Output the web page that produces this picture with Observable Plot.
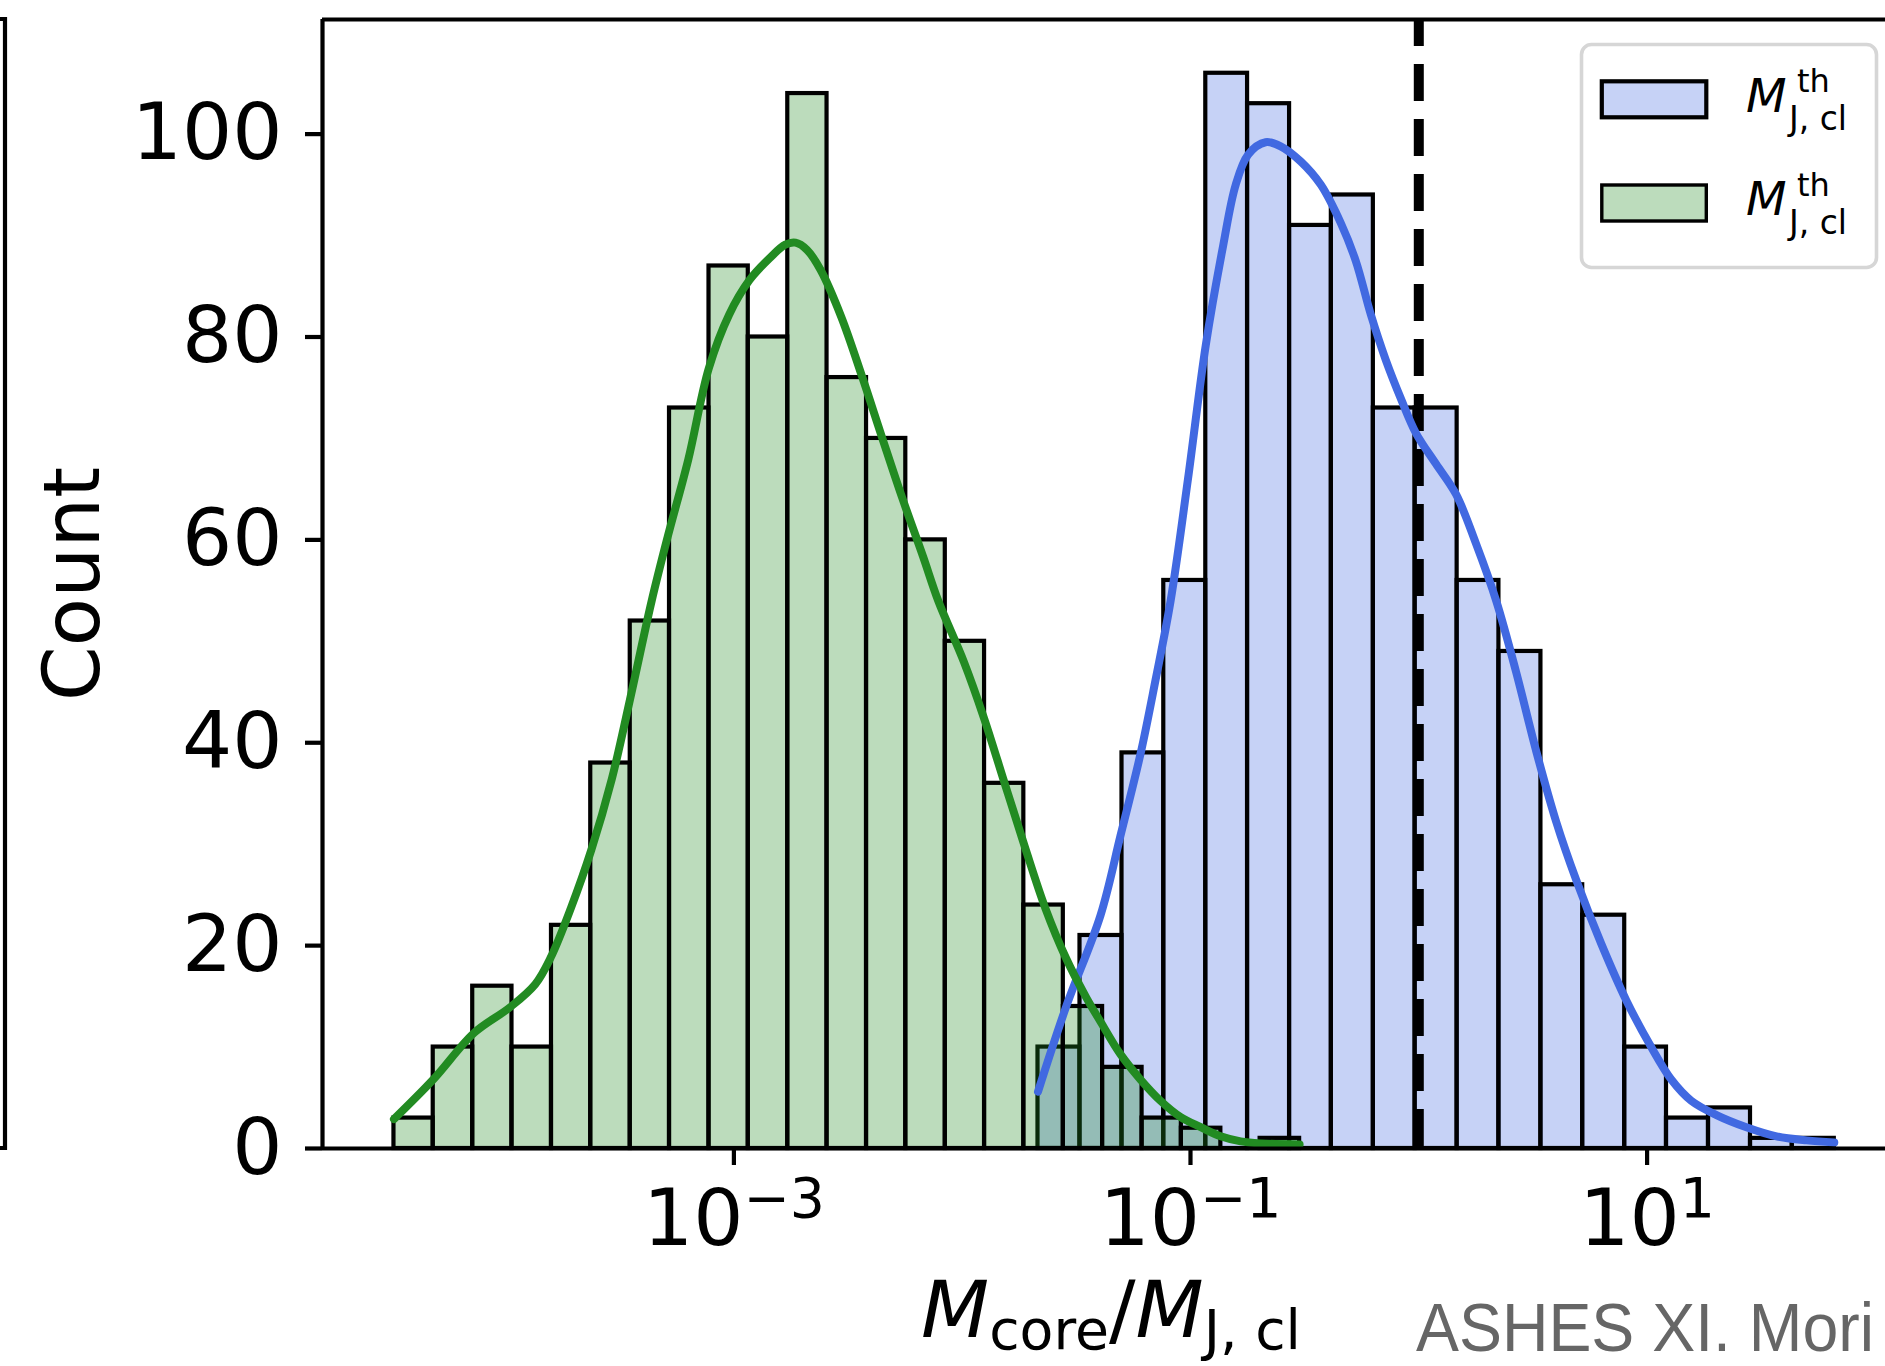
<!DOCTYPE html>
<html>
<head>
<meta charset="utf-8">
<script src="https://cdn.jsdelivr.net/npm/d3@7"></script>
<script src="https://cdn.jsdelivr.net/npm/@observablehq/plot@0.6"></script>
<style>
  html, body { margin: 0; padding: 0; background: #fff; }
  #wrap { position: relative; width: 1885px; height: 1366px; overflow: hidden; background: #fff; }
  #wrap > svg { position: absolute; left: 0; top: 0; max-width: none !important; }
</style>
</head>
<body>
<div id="wrap"></div>
<script>
// ---------- data ----------
// histogram bin edges, as log10 of M_core / M_J,cl
const greenEdgesLog = [-4.489, -4.317, -4.144, -3.972, -3.799, -3.627, -3.454, -3.282, -3.109, -2.937, -2.764, -2.592,
  -2.419, -2.247, -2.074, -1.902, -1.730, -1.557, -1.385, -1.212, -1.040, -0.867, -0.695, -0.522];
const greenCounts = [3, 10, 16, 10, 22, 38, 52, 73, 87, 80, 104, 76, 70, 60, 50, 36, 24, 14, 8, 3, 2, 0, 1];

const blueEdgesLog = [-1.668, -1.484, -1.300, -1.117, -0.933, -0.750, -0.566, -0.383, -0.199, -0.016, 0.168, 0.351,
  0.535, 0.718, 0.902, 1.085, 1.269, 1.453, 1.636, 1.820];
const blueCounts = [10, 21, 39, 56, 106, 103, 91, 94, 73, 73, 56, 49, 26, 23, 10, 3, 4, 1, 1];

// KDE curves (log10 x, count)
const greenKdeX = [-4.489, -4.317, -4.138, -3.982, -3.870, -3.803, -3.714, -3.625, -3.535, -3.446, -3.360, -3.290,
  -3.200, -3.110, -3.021, -2.932, -2.842, -2.775, -2.730, -2.680, -2.620, -2.530, -2.440, -2.351, -2.262, -2.172,
  -2.105, -1.993, -1.904, -1.814, -1.725, -1.636, -1.546, -1.457, -1.394, -1.307, -1.219, -1.131, -1.043, -0.955,
  -0.868, -0.780, -0.693, -0.522];
const greenKdeY = [2.9, 6.8, 11.4, 13.9, 16.2, 18.8, 23.7, 29.4, 36.4, 45.2, 54.0, 60.3,
  67.9, 76.9, 82.2, 85.6, 87.8, 89.1, 89.3, 88.6, 86.6, 82.0, 76.2, 70.1, 64.1, 58.4,
  54.0, 48.0, 42.4, 36.0, 29.7, 23.7, 18.8, 14.9, 12.5, 9.3, 6.8, 4.7, 3.1, 2.1,
  1.2, 0.7, 0.5, 0.4];

const blueKdeX = [-1.668, -1.546, -1.394, -1.307, -1.219, -1.153, -1.087, -1.011, -0.933, -0.857, -0.802, -0.747,
  -0.671, -0.605, -0.517, -0.429, -0.341, -0.276, -0.210, -0.144, -0.078, -0.012, 0.075, 0.163, 0.251, 0.339,
  0.426, 0.514, 0.602, 0.689, 0.799, 0.909, 1.018, 1.106, 1.194, 1.304, 1.435, 1.567, 1.699, 1.820];
const blueKdeY = [5.6, 13.9, 23.0, 30.8, 38.9, 46.2, 54.0, 66.0, 79.2, 89.0, 95.0, 98.0,
  99.2, 98.8, 97.3, 95.0, 91.2, 87.5, 82.2, 77.7, 73.9, 70.5, 67.5, 64.5, 59.6, 54.0,
  47.0, 39.2, 32.2, 26.5, 20.2, 14.6, 10.0, 6.8, 4.7, 3.3, 2.1, 1.2, 0.8, 0.6];

const thresholdX = [1];                       // dashed vertical line
const xTicks = [1e-3, 1e-1, 1e1];
const yTicks = [0, 20, 40, 60, 80, 100];
const xDomainLog = [-4.802, 2.110];
const yDomain = [0, 111.3];
const legendLabel = {main: "M", sup: "th", sub: "J, cl"};
const xLabelParts = [["M", "core"], ["M", "J, cl"]];
const caption = "ASHES XI. Mori";

// ---------- build tables ----------
const bins = (edges, counts) => counts.map((c, i) => ({x1: 10 ** edges[i], x2: 10 ** edges[i + 1], count: c}))
  .filter(d => d.count > 0);
const blueBins = bins(blueEdgesLog, blueCounts);
const greenBins = bins(greenEdgesLog, greenCounts);
const greenKde = greenKdeX.map((x, i) => ({x: 10 ** x, y: greenKdeY[i]}));
const blueKde = blueKdeX.map((x, i) => ({x: 10 ** x, y: blueKdeY[i]}));

const BLUE = "royalblue", GREEN = "forestgreen";
const FS = 79;
const SW = 4.2;

const plot = Plot.plot({
  width: 1905,
  height: 1366,
  marginLeft: 322,
  marginRight: 5,
  marginTop: 19,
  marginBottom: 218,
  style: {fontFamily: "DejaVu Sans", fontSize: FS + "px", background: "transparent", overflow: "visible", maxWidth: "none"},
  x: {type: "log", domain: xDomainLog.map(v => 10 ** v)},
  y: {domain: yDomain},
  marks: [
    Plot.rect(blueBins, {x1: "x1", x2: "x2", y1: 0, y2: "count", fill: BLUE, fillOpacity: 0.3, stroke: "black", strokeWidth: SW}),
    Plot.rect(greenBins, {x1: "x1", x2: "x2", y1: 0, y2: "count", fill: GREEN, fillOpacity: 0.3, stroke: "black", strokeWidth: SW}),
    Plot.ruleX(thresholdX, {stroke: "black", strokeWidth: 10, strokeDasharray: "37,18", strokeDashoffset: 10}),
    Plot.line(blueKde, {x: "x", y: "y", stroke: BLUE, strokeWidth: 8, curve: "catmull-rom"}),
    Plot.line(greenKde, {x: "x", y: "y", stroke: GREEN, strokeWidth: 8, curve: "catmull-rom"}),
    // spines
    Plot.ruleX([10 ** xDomainLog[0]], {stroke: "black", strokeWidth: SW}),
    Plot.ruleY([yDomain[0]], {stroke: "black", strokeWidth: SW}),
    Plot.ruleY([yDomain[1]], {stroke: "black", strokeWidth: SW}),
    Plot.axisY({ticks: yTicks, tickSize: 17, tickPadding: 23, fontSize: FS, strokeWidth: SW,
      label: "Count", labelAnchor: "center", labelOffset: 280, labelArrow: "none"}),
    Plot.axisX({ticks: xTicks, tickFormat: d => "10^" + Math.round(Math.log10(d)), tickSize: 17, tickPadding: 23,
      fontSize: FS, strokeWidth: SW, label: null})
  ]
});
plot.style.maxWidth = "none";
document.getElementById("wrap").appendChild(plot);

// superscript exponents in the x tick labels
const NS = "http://www.w3.org/2000/svg";
plot.querySelectorAll('g[aria-label="x-axis tick label"] text').forEach(t => {
  const m = t.textContent.match(/^10\^(-?\d+)$/);
  if (!m) return;
  t.textContent = "";
  const a = document.createElementNS(NS, "tspan"); a.textContent = "10"; t.appendChild(a);
  const b = document.createElementNS(NS, "tspan");
  b.setAttribute("font-size", (FS * 0.7).toFixed(1));
  b.setAttribute("dy", "-28");
  b.textContent = m[1].replace("-", "\u2212");
  t.appendChild(b);
});

// ---------- overlay: legend, x label, caption, neighbour panel edge ----------
const ov = d3.select("#wrap").append("svg")
  .attr("width", 1885).attr("height", 1366)
  .style("font-family", "DejaVu Sans");

// edge of the neighbouring panel on the left
ov.append("path").attr("d", "M0,19H5V1148H0").attr("fill", "none").attr("stroke", "black").attr("stroke-width", SW);

// x-axis label  M_core / M_J,cl
const xl = ov.append("text").attr("x", 1111).attr("y", 1337).attr("text-anchor", "middle")
  .attr("font-size", FS).attr("fill", "black");
xl.append("tspan").attr("font-style", "italic").text(xLabelParts[0][0]);
xl.append("tspan").attr("font-size", FS * 0.7).attr("dy", 12).text(xLabelParts[0][1]);
xl.append("tspan").attr("dy", -12).text("/");
xl.append("tspan").attr("font-style", "italic").text(xLabelParts[1][0]);
xl.append("tspan").attr("font-size", FS * 0.7).attr("dy", 12).text(xLabelParts[1][1]);

// caption
ov.append("text").attr("transform", "translate(1416,1351) scale(1,1.07)")
  .attr("font-family", "Liberation Sans, Arial, sans-serif").attr("font-size", 64).attr("fill", "#666")
  .attr("textLength", 458).attr("lengthAdjust", "spacingAndGlyphs").text(caption);

// legend
const lg = ov.append("g");
lg.append("rect").attr("x", 1581.5).attr("y", 44.5).attr("width", 295).attr("height", 223).attr("rx", 10)
  .attr("fill", "white").attr("fill-opacity", 0.8).attr("stroke", "#d6d6d6").attr("stroke-width", 3.6);
const entries = [{color: BLUE, y: 0, sw: 4.2}, {color: GREEN, y: 103.7, sw: 3.4}];
entries.forEach(e => {
  const g = lg.append("g").attr("transform", `translate(0,${e.y})`);
  g.append("rect").attr("x", 1601.8).attr("y", 81.3).attr("width", 104.5).attr("height", 36)
    .attr("fill", "white").attr("stroke", "none");
  g.append("rect").attr("x", 1601.8).attr("y", 81.3).attr("width", 104.5).attr("height", 36)
    .attr("fill", e.color).attr("fill-opacity", 0.3).attr("stroke", "black").attr("stroke-width", e.sw);
  g.append("text").attr("x", 1746).attr("y", 111.7).attr("font-size", 47).attr("font-style", "italic").text(legendLabel.main);
  g.append("text").attr("x", 1797).attr("y", 92).attr("font-size", 32).text(legendLabel.sup);
  g.append("text").attr("x", 1789).attr("y", 130).attr("font-size", 33).text(legendLabel.sub);
});
</script>
</body>
</html>
